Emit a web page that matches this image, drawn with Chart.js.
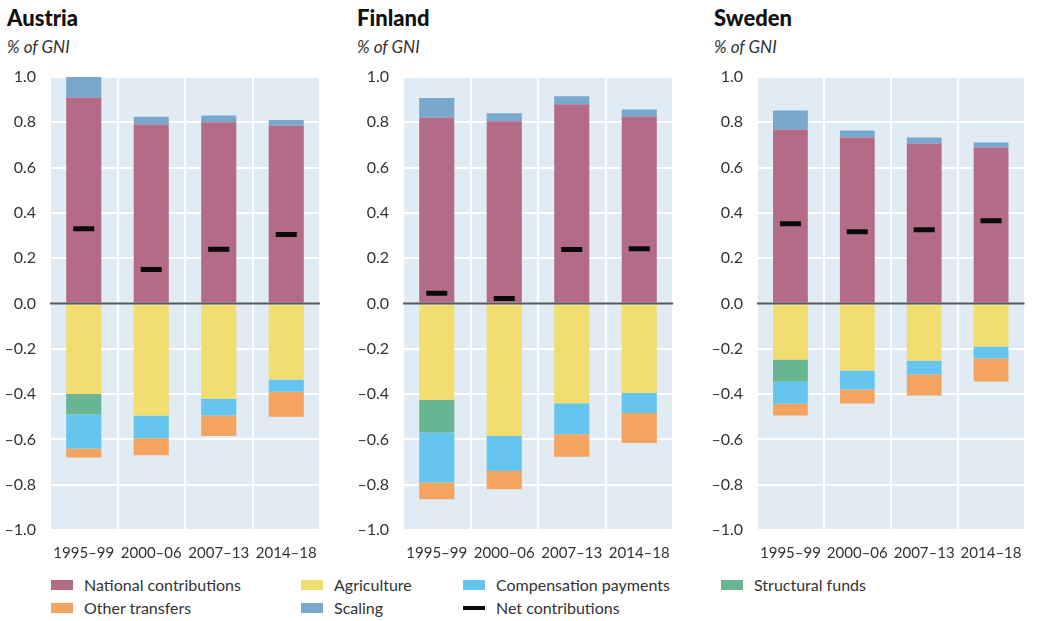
<!DOCTYPE html>
<html>
<head>
<meta charset="utf-8">
<script src="https://cdn.jsdelivr.net/npm/chart.js@4.4.1/dist/chart.umd.min.js"></script>
<style>
  body { margin: 0; width: 1040px; height: 621px; position: relative; overflow: hidden; background: #fff; font-family: Lato, "Open Sans", sans-serif; color: #222; }
  canvas { position: absolute; top: 0; }
  .title { position: absolute; top: 4px; font-size: 22px; font-weight: 900; color: #111; }
  .unit { position: absolute; top: 36px; font-size: 17px; font-style: italic; color: #333; }
  .item { position: absolute; font-size: 16px; color: #333; line-height: 20px; white-space: nowrap; }
  .sw { position: absolute; width: 22px; height: 10px; }
  .sw.line { height: 4px; }
</style>
</head>
<body>
<div class="title" style="left:7px">Austria</div>
<div class="unit" style="left:7px">% of GNI</div>
<div class="title" style="left:357px">Finland</div>
<div class="unit" style="left:357px">% of GNI</div>
<div class="title" style="left:714px">Sweden</div>
<div class="unit" style="left:714px">% of GNI</div>

<canvas id="austria" width="340" height="565" style="left:0px"></canvas>
<canvas id="finland" width="340" height="565" style="left:353px"></canvas>
<canvas id="sweden" width="340" height="565" style="left:700px"></canvas>

<div id="legend"></div>

<script>
const periods = ["1995–99", "2000–06", "2007–13", "2014–18"];

// Austria, % of GNI
const austriaNational = [0.91, 0.79, 0.80, 0.785];
const austriaScaling = [0.09, 0.035, 0.03, 0.025];
const austriaAgriculture = [-0.40, -0.495, -0.42, -0.335];
const austriaStructural = [-0.09, 0, 0, 0];
const austriaCompensation = [-0.15, -0.10, -0.075, -0.055];
const austriaOther = [-0.04, -0.075, -0.09, -0.11];
const austriaNet = [0.33, 0.15, 0.24, 0.305];

// Finland, % of GNI
const finlandNational = [0.82, 0.805, 0.88, 0.826];
const finlandScaling = [0.087, 0.035, 0.035, 0.03];
const finlandAgriculture = [-0.425, -0.585, -0.44, -0.395];
const finlandStructural = [-0.145, 0, 0, 0];
const finlandCompensation = [-0.22, -0.155, -0.137, -0.088];
const finlandOther = [-0.074, -0.08, -0.10, -0.133];
const finlandNet = [0.045, 0.022, 0.238, 0.242];

// Sweden, % of GNI
const swedenNational = [0.768, 0.733, 0.706, 0.689];
const swedenScaling = [0.084, 0.031, 0.027, 0.022];
const swedenAgriculture = [-0.247, -0.296, -0.252, -0.19];
const swedenStructural = [-0.098, 0, 0, 0];
const swedenCompensation = [-0.098, -0.084, -0.061, -0.053];
const swedenOther = [-0.052, -0.062, -0.093, -0.101];
const swedenNet = [0.352, 0.317, 0.326, 0.365];

const colors = {
  national: "#b36b88",
  agriculture: "#f2dd70",
  compensation: "#65c5ee",
  structural: "#67b593",
  other: "#f4a45e",
  scaling: "#7aa8cc",
  net: "#0a0a0a",
};

const yTickFont = { family: "Lato, 'Open Sans', sans-serif", size: 16 };
const xTickFont = { family: "Lato, 'Open Sans', sans-serif", size: 15 };

// light blue panel behind the bars and a dark line at zero on top of them
const plotBackground = {
  id: "plotBackground",
  beforeDraw(chart) {
    const { ctx, chartArea: a } = chart;
    ctx.save();
    ctx.fillStyle = "#e1ebf3";
    ctx.fillRect(a.left, a.top, a.width, a.height);
    ctx.restore();
  },
  afterDatasetsDraw(chart) {
    const { ctx, chartArea: a } = chart;
    const y = chart.scales.y.getPixelForValue(0);
    ctx.save();
    ctx.strokeStyle = "#5a5a5a";
    ctx.lineWidth = 2;
    ctx.beginPath();
    ctx.moveTo(a.left, y);
    ctx.lineTo(a.right, y);
    ctx.stroke();
    ctx.restore();
  },
};

const bar = (label, data, color) => ({
  label: label,
  data: data,
  backgroundColor: color,
  borderWidth: 0,
  barPercentage: 0.52,
  categoryPercentage: 1,
  stack: "flows",
});

// plotLeft: where the blue panel starts inside the canvas
const drawCountry = (canvasId, series, plotLeft) => {
  const data = {
    labels: periods,
    datasets: [
      bar("National contributions", series.national, colors.national),
      bar("Scaling", series.scaling, colors.scaling),
      bar("Agriculture", series.agriculture, colors.agriculture),
      bar("Structural funds", series.structural, colors.structural),
      bar("Compensation payments", series.compensation, colors.compensation),
      bar("Other transfers", series.other, colors.other),
      {
        type: "line",
        label: "Net contributions",
        data: series.net,
        stack: "net",
        showLine: false,
        pointStyle: "line",
        pointRadius: 10.5,
        pointHoverRadius: 10.5,
        pointBorderWidth: 5,
        borderColor: colors.net,
        backgroundColor: colors.net,
        order: -1,
      },
    ],
  };

  const config = {
    type: "bar",
    data: data,
    options: {
      responsive: false,
      animation: false,
      layout: { padding: { top: 77, right: 340 - plotLeft - 270, left: 0, bottom: 0 } },
      plugins: {
        legend: { display: false },
        tooltip: { enabled: false },
      },
      scales: {
        x: {
          stacked: true,
          border: { display: false },
          grid: { color: "#ffffff", lineWidth: 2, drawTicks: false },
          ticks: { color: "#333", font: xTickFont, padding: 14, maxRotation: 0, autoSkip: false },
          afterFit: (scale) => { scale.height = 35; },
        },
        y: {
          stacked: true,
          min: -1,
          max: 1,
          border: { display: false },
          grid: {
            drawTicks: false,
            lineWidth: 2,
            color: (ctx) => (Math.abs(ctx.tick.value) < 1e-9 ? "rgba(0,0,0,0)" : "#ffffff"),
          },
          ticks: {
            stepSize: 0.2,
            color: "#333",
            font: yTickFont,
            padding: 14,
            callback: (v) => (v < -1e-9 ? "–" + Math.abs(v).toFixed(1) : Math.abs(v).toFixed(1)),
          },
          afterFit: (scale) => { scale.width = plotLeft; },
        },
      },
    },
    plugins: [plotBackground],
  };
  return new Chart(document.getElementById(canvasId), config);
};

drawCountry("austria", {
  national: austriaNational, scaling: austriaScaling, agriculture: austriaAgriculture,
  structural: austriaStructural, compensation: austriaCompensation, other: austriaOther, net: austriaNet,
}, 50);
drawCountry("finland", {
  national: finlandNational, scaling: finlandScaling, agriculture: finlandAgriculture,
  structural: finlandStructural, compensation: finlandCompensation, other: finlandOther, net: finlandNet,
}, 50);
drawCountry("sweden", {
  national: swedenNational, scaling: swedenScaling, agriculture: swedenAgriculture,
  structural: swedenStructural, compensation: swedenCompensation, other: swedenOther, net: swedenNet,
}, 57);

// shared legend below the three panels
const legendItems = [
  { text: "National contributions", color: colors.national, x: 51, y: 575 },
  { text: "Agriculture", color: colors.agriculture, x: 301, y: 575 },
  { text: "Compensation payments", color: colors.compensation, x: 463, y: 575 },
  { text: "Structural funds", color: colors.structural, x: 721, y: 575 },
  { text: "Other transfers", color: colors.other, x: 51, y: 598 },
  { text: "Scaling", color: colors.scaling, x: 301, y: 598 },
  { text: "Net contributions", color: colors.net, x: 463, y: 598, line: true },
];
const legend = document.getElementById("legend");
legendItems.forEach((it) => {
  const sw = document.createElement("div");
  sw.className = it.line ? "sw line" : "sw";
  sw.style.left = it.x + "px";
  sw.style.top = (it.y + (it.line ? 8 : 5)) + "px";
  sw.style.background = it.color;
  legend.appendChild(sw);
  const label = document.createElement("div");
  label.className = "item";
  label.style.left = (it.x + 33) + "px";
  label.style.top = it.y + "px";
  label.textContent = it.text;
  legend.appendChild(label);
});
</script>
</body>
</html>
